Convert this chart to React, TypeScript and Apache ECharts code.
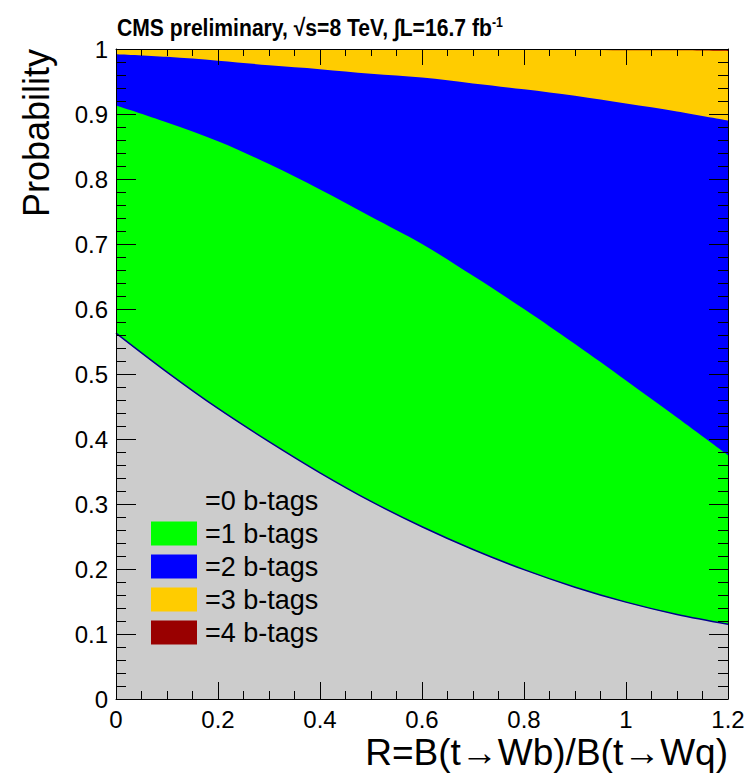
import React, { useEffect, useRef } from "react";
import * as echarts from "echarts";

// R values (x axis)
const rValues = [0, 0.1, 0.2, 0.3, 0.4, 0.5, 0.6, 0.7, 0.8, 0.9, 1.0, 1.1, 1.2];
// probabilities for each b-tag multiplicity
const p0 = [0.563, 0.503, 0.447, 0.396, 0.348, 0.304, 0.265, 0.230, 0.199, 0.172, 0.149, 0.130, 0.115];
const p1 = [0.350, 0.384, 0.411, 0.427, 0.436, 0.438, 0.435, 0.421, 0.401, 0.374, 0.341, 0.303, 0.260];
const p2 = [0.079, 0.101, 0.124, 0.152, 0.185, 0.220, 0.256, 0.296, 0.338, 0.382, 0.426, 0.471, 0.515];
const p3 = [0.008, 0.012, 0.018, 0.025, 0.031, 0.038, 0.044, 0.053, 0.061, 0.071, 0.082, 0.094, 0.107];
const p4 = [0.000, 0.000, 0.000, 0.0001, 0.0002, 0.0003, 0.0005, 0.0007, 0.001, 0.0013, 0.0017, 0.0022, 0.003];

const seriesNames = ["=0 b-tags", "=1 b-tags", "=2 b-tags", "=3 b-tags", "=4 b-tags"];
const seriesValues = [p0, p1, p2, p3, p4];
const seriesColors = ["#cccccc", "#00ff00", "#0000ff", "#ffcc00", "#990000"];

const titleText = "CMS preliminary, √s=8 TeV, ∫L=16.7 fb";
const titleSup = "-1";
const xTitle = "R=B(t→Wb)/B(t→Wq)";
const yTitle = "Probability";

const FONT = "'Liberation Sans', Arial, Helvetica, sans-serif";

export default function App() {
  const ref = useRef<HTMLDivElement>(null);
  useEffect(() => {
    if (!ref.current) return;
    const chart = echarts.init(ref.current, undefined, { renderer: "svg" });

    const tickBlack = { color: "#000", width: 1 };
    const makeX = (pos: "bottom" | "top", showLabels: boolean, majorLen: number, minorLen: number) => ({
      type: "value",
      position: pos,
      min: 0,
      max: 1.2,
      interval: 0.2,
      z: 10,
      axisLine: { show: true, onZero: false, lineStyle: { color: "#000", width: 1 } },
      axisTick: { show: true, inside: true, length: majorLen, lineStyle: tickBlack },
      minorTick: { show: true, splitNumber: 4, length: minorLen, lineStyle: tickBlack },
      splitLine: { show: false },
      axisLabel: { show: showLabels, fontSize: 24, fontFamily: FONT, color: "#000", margin: 8 },
    });
    const makeY = (pos: "left" | "right", showLabels: boolean, majorLen: number, minorLen: number) => ({
      type: "value",
      position: pos,
      min: 0,
      max: 1,
      interval: 0.1,
      z: 10,
      axisLine: { show: true, onZero: false, lineStyle: { color: "#000", width: 1 } },
      axisTick: { show: true, inside: true, length: majorLen, lineStyle: tickBlack },
      minorTick: { show: true, splitNumber: 5, length: minorLen, lineStyle: tickBlack },
      splitLine: { show: false },
      axisLabel: { show: showLabels, fontSize: 24, fontFamily: FONT, color: "#000", margin: 8 },
    });

    // cumulative tops (stacked by hand), each area filled down to 0, painted top-down
    const cumulative: number[][] = [];
    seriesValues.forEach((vals, k) => {
      cumulative.push(vals.map((v, i) => (k === 0 ? 0 : cumulative[k - 1][i]) + v));
    });

    const series = seriesNames.map((name, k) => ({
      name,
      type: "line",
      xAxisIndex: 0,
      yAxisIndex: 0,
      showSymbol: false,
      symbol: "none",
      silent: true,
      smooth: 0.35,
      z: 8 - k,
      itemStyle: { color: seriesColors[k] },
      lineStyle: k === 0 ? { color: "#00008b", width: 1.5 } : { width: 0, color: seriesColors[k] },
      areaStyle: { color: seriesColors[k], opacity: 1, origin: "start" },
      emphasis: { disabled: true },
      data: rValues.map((r, i) => [r, Math.min(1, cumulative[k][i])]),
    }));

    chart.setOption({
      animation: false,
      backgroundColor: "#ffffff",
      grid: { left: 116, right: 21, top: 49, bottom: 74, containLabel: false },
      xAxis: [makeX("bottom", true, 17, 8), makeX("top", false, 16, 7)],
      yAxis: [makeY("left", true, 20, 10), makeY("right", false, 19, 10)],
      legend: {
        show: true,
        z: 20,
        orient: "vertical",
        left: 151,
        top: 487,
        padding: 0,
        itemWidth: 46,
        itemHeight: 24,
        itemGap: 6,
        icon: "rect",
        selectedMode: false,
        textStyle: { fontSize: 27, fontFamily: FONT, color: "#000", lineHeight: 26, padding: [0, 0, 0, 3] },
        data: seriesNames.map((n, k) => ({
          name: n,
          itemStyle: { color: seriesColors[k], borderWidth: 0 },
        })),
      },
      series,
      graphic: [
        {
          type: "text",
          x: 117,
          y: 28,
          scaleX: 0.88,
          z: 20,
          style: {
            text: `{t|${titleText}}{s|${titleSup}}`,
            textVerticalAlign: "middle",
            rich: {
              t: { fontSize: 24, fontWeight: "bold", fontFamily: FONT, fill: "#000", lineHeight: 26 },
              s: { fontSize: 14, fontWeight: "bold", fontFamily: FONT, fill: "#000", lineHeight: 26, verticalAlign: "top" },
            },
          },
        },
        {
          type: "text",
          x: 728,
          y: 752,
          z: 20,
          style: {
            text: xTitle,
            fontSize: 37,
            fontFamily: FONT,
            fill: "#000",
            textAlign: "right",
            textVerticalAlign: "middle",
          },
        },
        {
          type: "text",
          x: 36,
          y: 49,
          rotation: Math.PI / 2,
          z: 20,
          style: {
            text: yTitle,
            fontSize: 36,
            fontFamily: FONT,
            fill: "#000",
            textAlign: "right",
            textVerticalAlign: "middle",
          },
        },
      ],
    });
    return () => chart.dispose();
  }, []);
  return <div ref={ref} style={{ position: "fixed", left: 0, top: 0, width: 749, height: 773 }} />;
}
